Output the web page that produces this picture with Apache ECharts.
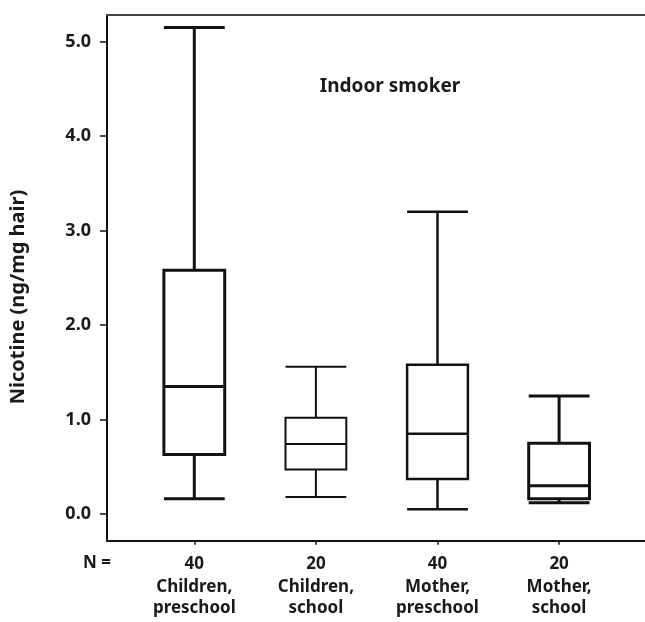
<!DOCTYPE html>
<html><head><meta charset="utf-8">
<script src="https://cdn.jsdelivr.net/npm/echarts@6/dist/echarts.min.js"></script>
<style>html,body{margin:0;padding:0;background:#fff}#c{width:645px;height:622px}</style>
</head><body><div id="c"></div>
<script>
var categories = ['Children,\npreschool', 'Children,\nschool', 'Mother,\npreschool', 'Mother,\nschool'];
var counts = [40, 20, 40, 20];
// [min, Q1, median, Q3, max]
var boxValues = [
  [0.16, 0.63, 1.35, 2.58, 5.15],
  [0.18, 0.47, 0.74, 1.02, 1.56],
  [0.05, 0.37, 0.85, 1.58, 3.20],
  [0.12, 0.16, 0.30, 0.75, 1.25]
];
var lineWidths = [3, 2, 2.5, 3];
var yTicks = [0, 1, 2, 3, 4, 5];
var yMin = -0.283, yMax = 5.283;

var FONT = '"Noto Sans", "DejaVu Sans", sans-serif';
var chart = echarts.init(document.getElementById('c'));
chart.setOption({
  animation: false,
  backgroundColor: '#fff',
  title: [
    {text: 'Indoor smoker', left: 385, top: 72, textAlign: 'center',
     textStyle: {fontFamily: FONT, fontWeight: 'bold', fontSize: 19, color: '#1a1a1a'}},
    {text: 'N =', left: 78, top: 550,
     textStyle: {fontFamily: FONT, fontWeight: 'bold', fontSize: 17, color: '#1a1a1a'}}
  ],
  graphic: [{
    type: 'text', rotation: Math.PI / 2, x: 18, y: 297,
    style: {text: 'Nicotine (ng/mg hair)', fontFamily: FONT, fontWeight: 'bold', fontSize: 20, fill: '#1a1a1a',
            align: 'center', verticalAlign: 'middle'}
  }],
  grid: [
    {left: 107, top: 15, right: -5, bottom: 81.3, containLabel: false},
    {left: 133.5, top: 15, right: 25.1, bottom: 81.3, containLabel: false}
  ],
  xAxis: [
    {gridIndex: 0, type: 'value', min: 0, max: 1, position: 'bottom',
     axisLine: {show: true, onZero: false, lineStyle: {color: '#111', width: 2}},
     axisTick: {show: false}, axisLabel: {show: false}, splitLine: {show: false}},
    {gridIndex: 0, type: 'value', min: 0, max: 1, position: 'top',
     axisLine: {show: true, onZero: false, lineStyle: {color: '#444', width: 2}},
     axisTick: {show: false}, axisLabel: {show: false}, splitLine: {show: false}},
    {gridIndex: 1, type: 'category', data: categories, boundaryGap: true,
     axisLine: {show: false, onZero: false},
     axisTick: {show: true, alignWithLabel: true, length: 4, lineStyle: {color: '#111', width: 1.5}},
     axisLabel: {
       margin: 10, interval: 0,
       formatter: function (v, i) { return '{n|' + counts[i] + '}\n{c|' + v.replace('\n', '}\n{c|') + '}'; },
       rich: {
         n: {fontFamily: FONT, fontWeight: 'bold', fontSize: 17, color: '#1a1a1a', lineHeight: 26, align: 'center'},
         c: {fontFamily: FONT, fontWeight: 'bold', fontSize: 17, color: '#1a1a1a', lineHeight: 21, align: 'center'}
       }
     },
     splitLine: {show: false}}
  ],
  yAxis: [
    {gridIndex: 0, type: 'value', min: yMin, max: yMax,
     axisLine: {show: true, onZero: false, lineStyle: {color: '#111', width: 2}},
     axisTick: {show: true, length: 7, customValues: yTicks, lineStyle: {color: '#111', width: 1.5}},
     axisLabel: {customValues: yTicks, margin: 16, formatter: function (v) { return v.toFixed(1); },
       fontFamily: FONT, fontWeight: 'bold', fontSize: 18, color: '#1a1a1a'},
     splitLine: {show: false}},
    {gridIndex: 1, type: 'value', min: yMin, max: yMax, show: false, splitLine: {show: false}}
  ],
  series: [{
    type: 'boxplot', xAxisIndex: 2, yAxisIndex: 1,
    boxWidth: ['50%', '50%'],
    itemStyle: {color: 'transparent', borderColor: '#111', borderWidth: 2.5},
    data: boxValues.map(function (b, i) {
      return {value: b, itemStyle: {borderWidth: lineWidths[i]}};
    })
  }]
});
</script></body></html>
